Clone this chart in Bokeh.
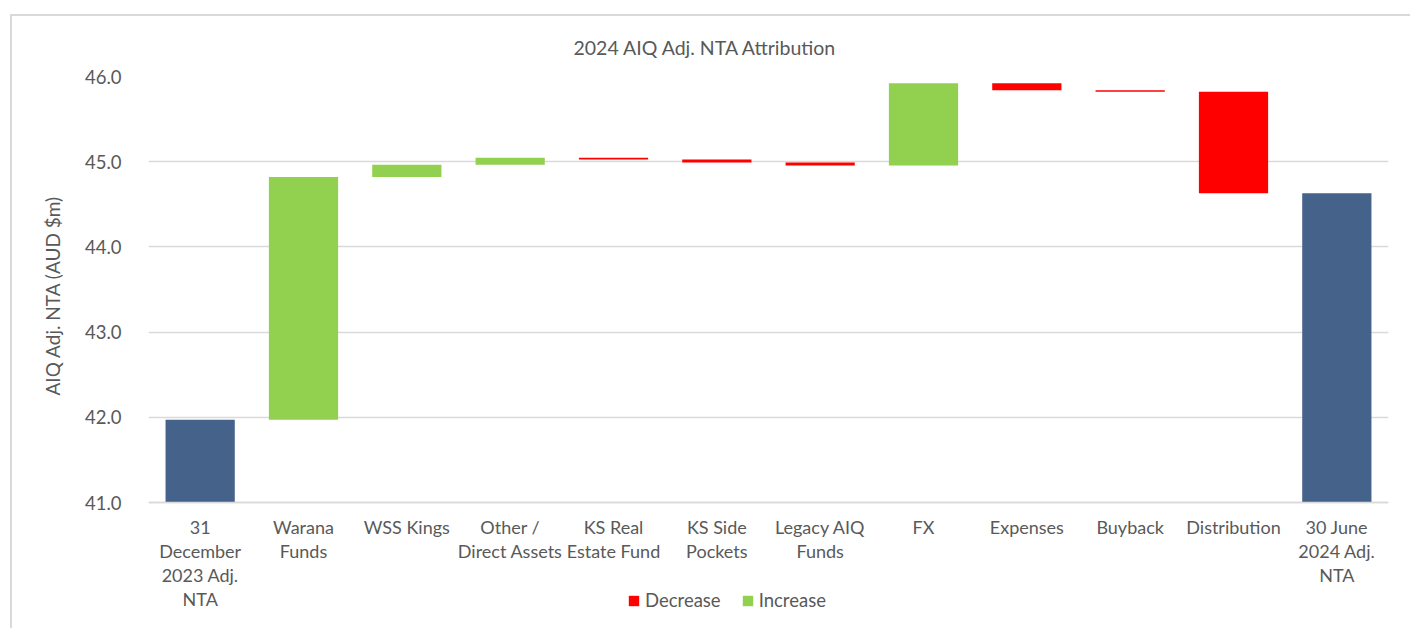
from bokeh.plotting import figure
from bokeh.models import (ColumnDataSource, Range1d, FixedTicker, NumeralTickFormatter,
                          Legend, LegendItem, Title)
from bokeh.embed import file_html
from bokeh.resources import INLINE

# ---- data ----
categories = ["31\nDecember\n2023 Adj.\nNTA", "Warana\nFunds", "WSS Kings", "Other /\nDirect Assets",
              "KS Real\nEstate Fund", "KS Side\nPockets", "Legacy AIQ\nFunds", "FX", "Expenses",
              "Buyback", "Distribution", "30 June\n2024 Adj.\nNTA"]
start_nta = 41.97
changes = [2.85, 0.145, 0.08, -0.02, -0.035, -0.035, 0.965, -0.08, -0.02, -1.19]
end_nta = 44.63
y_ticks = [41.0, 42.0, 43.0, 44.0, 45.0, 46.0]

BLUE = "#44628A"
GREEN = "#92D050"
RED = "#FF0000"
TXT = "#595959"
FONT = "Lato"

# waterfall geometry derived from data
inc = dict(x=[], bottom=[], top=[])
dec = dict(x=[], bottom=[], top=[])
running = start_nta
for cat, ch in zip(categories[1:-1], changes):
    new = running + ch
    d = inc if ch >= 0 else dec
    d["x"].append(cat)
    d["bottom"].append(min(running, new))
    d["top"].append(max(running, new))
    running = new
tot = dict(x=[categories[0], categories[-1]], bottom=[y_ticks[0]] * 2, top=[start_nta, end_nta])

# layout (pixels): frame top 76, axis baseline 502, frame bottom 620
FR_TOP, AX_Y, FR_BOT = 76, 502, 620
ymin, ymax = y_ticks[0], y_ticks[-1]
ext = (FR_BOT - AX_Y) * (ymax - ymin) / (AX_Y - FR_TOP)

p = figure(x_range=categories, y_range=Range1d(ymin - ext, ymax), width=1410, height=628,
           output_backend="svg", toolbar_location=None,
           min_border_left=148, min_border_right=22, min_border_top=FR_TOP,
           min_border_bottom=628 - FR_BOT)
p.border_fill_color = None
p.background_fill_color = "white"
p.outline_line_color = None
p.styles = {"box-shadow": "inset 10px 14px 0 0 white, inset 12px 16px 0 0 #d9d9d9"}

W = 0.67
p.vbar(x="x", bottom="bottom", top="top", width=W, source=ColumnDataSource(tot),
       fill_color=BLUE, line_color=None)
r_dec = p.vbar(x="x", bottom="bottom", top="top", width=W, source=ColumnDataSource(dec),
               fill_color=RED, line_color=None)
r_inc = p.vbar(x="x", bottom="bottom", top="top", width=W, source=ColumnDataSource(inc),
               fill_color=GREEN, line_color=None)

# title
p.title.text = "2024 AIQ Adj. NTA Attribution"
p.title.align = "left"
p.title.offset = 425
p.title.text_font = FONT
p.title.text_font_size = "19.5px"
p.title.text_font_style = "normal"
p.title.text_color = TXT
p.title.standoff = 35

# grid
p.xgrid.grid_line_color = None
p.ygrid.grid_line_color = "#d9d9d9"
p.ygrid.grid_line_width = 1.5
p.yaxis.ticker = FixedTicker(ticks=y_ticks)

# y axis
p.yaxis.formatter = NumeralTickFormatter(format="0.0")
p.yaxis.axis_line_color = None
p.yaxis.major_tick_line_color = None
p.yaxis.minor_tick_line_color = None
p.yaxis.major_label_standoff = 21
p.yaxis.major_label_text_font = FONT
p.yaxis.major_label_text_font_size = "18.5px"
p.yaxis.major_label_text_color = TXT

ytitle = Title(text="AIQ Adj. NTA (AUD $m)", align="left", offset=FR_BOT - 395,
               text_font=FONT, text_font_size="19px", text_font_style="normal",
               text_color=TXT, standoff=36)
p.add_layout(ytitle, "left")

# x axis, drawn at the base value
p.xaxis.fixed_location = ymin
p.xaxis.axis_line_color = "#d9d9d9"
p.xaxis.axis_line_width = 1.5
p.xaxis.major_tick_line_color = None
p.xaxis.minor_tick_line_color = None
p.xaxis.major_label_standoff = 7
p.xaxis.major_label_text_font = FONT
p.xaxis.major_label_text_font_size = "18px"
p.xaxis.major_label_text_color = TXT
p.xaxis.major_label_text_line_height = 1.1
p.x_range.range_padding = 0

legend = Legend(items=[LegendItem(label="Decrease", renderers=[r_dec]),
                       LegendItem(label="Increase", renderers=[r_inc])],
                orientation="horizontal", location=(479, 9))
legend.background_fill_alpha = 0
legend.border_line_color = None
legend.padding = 0
legend.margin = 0
legend.spacing = 20
legend.glyph_width = 13
legend.glyph_height = 13
legend.label_standoff = 5
legend.label_height = 13
legend.label_text_font = FONT
legend.label_text_font_size = "18.5px"
legend.label_text_color = TXT
p.add_layout(legend, "center")

open("out.html", "w").write(file_html(p, INLINE))
